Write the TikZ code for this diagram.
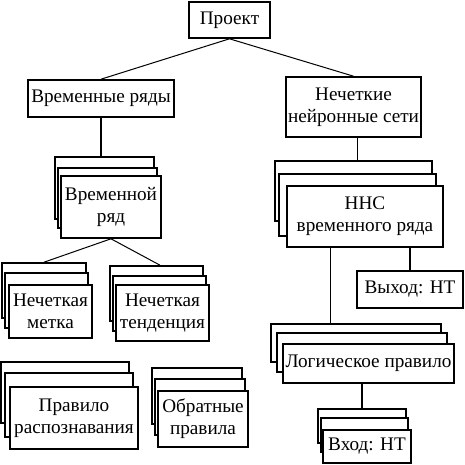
\documentclass[tikz,border=0pt]{standalone}
\usepackage{fontspec}
\setmainfont{Liberation Serif}
\begin{document}
\begin{tikzpicture}[x=1pt,y=-1pt,
  box/.style={draw,line width=1.6pt,fill=white,rectangle,inner sep=0pt,align=center,
    font=\fontsize{19.2}{22}\selectfont},
  thin/.style={line width=1pt},
  thick/.style={line width=2pt}]
\useasboundingbox[fill=white] (0,0) rectangle (465,465);
% top level
\node[box,minimum width=81pt,minimum height=36pt] (proj) at (229.5,20) {Проект};
\node[box,minimum width=146pt,minimum height=37pt] (vr) at (101,98.5) {Временные ряды};
\node[box,minimum width=135pt,minimum height=60pt] (nns) at (353.5,107) {Нечеткие\\нейронные сети};
% Временной ряд stack
\node[box,minimum width=99pt,minimum height=62pt] (vrb) at (104.5,188) {};
\node[box,minimum width=99pt,minimum height=60pt] (vrm) at (107.5,198) {};
\node[box,minimum width=100pt,minimum height=62pt] (vrf) at (111,207) {Временной\\ряд};
% Нечеткая метка stack
\node[box,minimum width=84pt,minimum height=55pt] (nmb) at (44,290.5) {};
\node[box,minimum width=83pt,minimum height=55pt] (nmm) at (46.5,300.5) {};
\node[box,minimum width=83pt,minimum height=53pt] (nmf) at (50.5,311.5) {Нечеткая\\метка};
% Нечеткая тенденция stack
\node[box,minimum width=93pt,minimum height=55pt] (ntb) at (156.5,293.5) {};
\node[box,minimum width=93pt,minimum height=55pt] (ntm) at (159.5,303.5) {};
\node[box,minimum width=93pt,minimum height=56pt] (ntf) at (162.5,313) {Нечеткая\\тенденция};
% ННС stack
\node[box,minimum width=157pt,minimum height=60pt] (nnsb) at (353.5,191) {};
\node[box,minimum width=157pt,minimum height=62pt] (nnsm) at (357.5,205) {};
\node[box,minimum width=156pt,minimum height=61pt] (nnsf) at (365,216.5) {ННС\\временного ряда};
% Выход
\node[box,minimum width=106pt,minimum height=37pt] (vyh) at (410,289.5) {Выход: НТ};
% Логическое правило stack
\node[box,minimum width=170pt,minimum height=38pt] (logb) at (356,343) {};
\node[box,minimum width=170pt,minimum height=39pt] (logm) at (362,352.5) {};
\node[box,minimum width=171pt,minimum height=39pt] (logf) at (368.5,363.5) {Логическое правило};
% Вход stack
\node[box,minimum width=88pt,minimum height=34pt] (vhb) at (362,426) {};
\node[box,minimum width=87pt,minimum height=34pt] (vhm) at (364.5,435) {};
\node[box,minimum width=88pt,minimum height=33pt] (vhf) at (367,446.5) {Вход: НТ};
% Правило распознавания stack
\node[box,minimum width=128pt,minimum height=61pt] (prb) at (65,392.5) {};
\node[box,minimum width=128pt,minimum height=64pt] (prm) at (69,405) {};
\node[box,minimum width=128pt,minimum height=62pt] (prf) at (74,418) {Правило\\распознавания};
% Обратные правила stack
\node[box,minimum width=90pt,minimum height=56pt] (obb) at (197,396) {};
\node[box,minimum width=90pt,minimum height=56pt] (obm) at (200,407) {};
\node[box,minimum width=90pt,minimum height=56pt] (obf) at (203,419) {Обратные\\правила};
% connectors
\draw[thin] (proj.south) -- (vr.north);
\draw[thin] (proj.south) -- (nns.north);
\draw[thick] (vr.south) -- (vr.south |- vrb.north);
\draw[thin] ([xshift=3.5pt]nns.south) -- ([xshift=3.5pt]nns.south |- nnsb.north);
\draw[thin] (vrf.south) -- (nmb.north);
\draw[thin] (vrf.south) -- ([xshift=3.5pt]ntb.north);
\draw[thick] (vyh.north) -- (vyh.north |- nnsf.south);
\draw[thin] ([xshift=44pt]nnsf.south west) -- ([xshift=44pt]nnsf.south west |- logb.north);
\draw[thick] (vhb.north) -- (vhb.north |- logf.south);
\end{tikzpicture}
\end{document}
